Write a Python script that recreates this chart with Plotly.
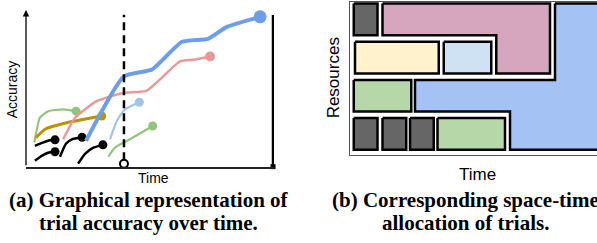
import plotly.graph_objects as go

# ---------------- Panel (a): accuracy curves (time %, accuracy %) ----------------
blue_t = [24.2, 39.5, 50.8, 62.9, 73.4, 81.0, 94.4]
blue_a = [16.5, 57.6, 62.0, 79.7, 81.6, 89.2, 95.6]
pink_t = [15.0, 19.8, 28.5, 39.2, 48.7, 62.1, 67.5, 74.2]
pink_a = [17.5, 31.2, 41.8, 47.0, 48.5, 67.1, 68.2, 70.3]
green1_t = [3.4, 5.6, 9.0, 15.0, 20.2]
green1_a = [15.4, 31.2, 35.4, 36.5, 35.4]
gold_t = [4.0, 7.7, 16.4, 30.5]
gold_a = [18.5, 23.9, 28.0, 32.3]
lblue_t = [33.9, 36.6, 39.9, 45.7]
lblue_a = [17.5, 29.1, 36.5, 41.1]
green2_t = [33.2, 35.9, 41.9, 51.1]
green2_a = [6.3, 12.2, 17.5, 25.9]
black1_t = [3.6, 6.5, 8.9, 11.7]
black1_a = [13.3, 15.2, 16.5, 17.1]
black2_t = [3.6, 6.5, 8.9, 11.7]
black2_a = [3.8, 7.0, 8.9, 9.5]
black3_t = [13.7, 16.1, 18.5, 22.6]
black3_a = [6.3, 14.6, 17.4, 18.7]
black4_t = [21.0, 23.8, 27.0, 31.0]
black4_a = [1.9, 8.2, 12.0, 13.9]
now_time = 39.5
deadline_time = 99.6
deadline_top = 96.8

# ---------------- Panel (b): space-time allocation (time units, resource row) ----------------
# each trial: list of (row, start, end)
gray_trials = [
    [(3, 1.5, 11.0)],
    [(0, 1.5, 11.0)],
    [(0, 13.0, 22.5)],
    [(0, 24.0, 33.5)],
]
yellow_trial = [(2, 2.0, 35.5)]
lblue_trial = [(2, 37.5, 56.5)]
green_trial_a = [(1, 1.5, 24.5)]
green_trial_b = [(0, 35.0, 62.0)]
pink_trial = [(3, 13.0, 80.0), (2, 58.5, 80.0)]
blue_trial = [(3, 82.0, 100.0), (2, 82.0, 100.0), (1, 26.0, 100.0), (0, 64.0, 100.0)]

ROW_LO, ROW_HI = 0.13, 0.96


def outline(segs):
    """Polygon of a staircase trial whose row segments share the same end."""
    segs = sorted(segs, key=lambda s: -s[0])  # top row first
    top_row, bot_row = segs[0][0], segs[-1][0]
    end = segs[0][2]
    xs = [segs[0][1], end, end, segs[-1][1]]
    ys = [top_row + ROW_HI, top_row + ROW_HI, bot_row + ROW_LO, bot_row + ROW_LO]
    up = segs[::-1]  # bottom to top
    for i in range(len(up) - 1):
        r, s, _ = up[i]
        r2, s2, _ = up[i + 1]
        if s2 == s:
            continue
        yb = r + ROW_HI if s2 > s else r2 + ROW_LO
        xs += [s, s2]
        ys += [yb, yb]
    xs.append(segs[0][1])
    ys.append(top_row + ROW_HI)
    return xs, ys


fig = go.Figure()

curves = [
    (green1_t, green1_a, "#93c47d", 2.2, 9),
    (gold_t, gold_a, "#bf9000", 3, 9),
    (pink_t, pink_a, "#ea9999", 2.5, 10),
    (lblue_t, lblue_a, "#9fc5e8", 2.2, 9),
    (green2_t, green2_a, "#93c47d", 2.2, 9),
    (black1_t, black1_a, "black", 2.5, 9),
    (black2_t, black2_a, "black", 2.5, 9),
    (black3_t, black3_a, "black", 2.5, 9),
    (black4_t, black4_a, "black", 2.5, 9),
    (blue_t, blue_a, "#6d9eeb", 4, 13),
]
for t, a, c, w, ms in curves:
    fig.add_trace(go.Scatter(x=t, y=a, mode="lines",
                             line=dict(color=c, width=w, shape="spline", smoothing=0.5),
                             xaxis="x", yaxis="y", hoverinfo="skip"))
    fig.add_trace(go.Scatter(x=[t[-1]], y=[a[-1]], mode="markers",
                             marker=dict(color=c, size=ms), cliponaxis=False,
                             xaxis="x", yaxis="y", hoverinfo="skip"))

# current time (dashed) and deadline
fig.add_trace(go.Scatter(x=[now_time, now_time], y=[4, 97], mode="lines",
                         line=dict(color="black", width=2.5, dash="8px,5px"),
                         xaxis="x", yaxis="y", hoverinfo="skip"))
fig.add_trace(go.Scatter(x=[now_time], y=[1.8], mode="markers",
                         marker=dict(color="white", size=8, line=dict(color="black", width=2)),
                         cliponaxis=False, xaxis="x", yaxis="y", hoverinfo="skip"))
fig.add_trace(go.Scatter(x=[deadline_time, deadline_time], y=[0, deadline_top], mode="lines",
                         line=dict(color="black", width=2.5), cliponaxis=False,
                         xaxis="x", yaxis="y", hoverinfo="skip"))
fig.add_trace(go.Scatter(x=[deadline_time], y=[0], mode="markers",
                         marker=dict(color="black", size=5, symbol="square"), cliponaxis=False,
                         xaxis="x", yaxis="y", hoverinfo="skip"))

# ---- panel (b) blocks ----
blocks = [(tr, "#666666") for tr in gray_trials] + [
    (yellow_trial, "#fff2cc"), (lblue_trial, "#cfe2f3"),
    (green_trial_a, "#b6d7a8"), (green_trial_b, "#b6d7a8"),
    (pink_trial, "#d5a6bd"), (blue_trial, "#a4c2f4"),
]
for segs, col in blocks:
    xs, ys = outline(segs)
    fig.add_trace(go.Scatter(x=xs, y=ys, mode="lines", fill="toself", fillcolor=col,
                             line=dict(color="black", width=2.5),
                             xaxis="x2", yaxis="y2", hoverinfo="skip"))

W, H = 597, 243
ax_common = dict(showgrid=False, zeroline=False, showticklabels=False, ticks="", fixedrange=True)
fig.update_layout(
    width=W, height=H, margin=dict(l=0, r=0, t=0, b=0),
    paper_bgcolor="white", plot_bgcolor="white", showlegend=False,
    xaxis=dict(domain=[26 / W, 274 / W], range=[0, 100], anchor="y",
               showline=True, linecolor="#222", linewidth=2, **ax_common),
    yaxis=dict(domain=[(H - 166) / H, (H - 8) / H], range=[0, 100], anchor="x",
               showline=False, **ax_common),
    xaxis2=dict(domain=[350 / W, 1], range=[0, 98.8], anchor="y2",
                showline=True, mirror=True, linecolor="#555", linewidth=1.5, **ax_common),
    yaxis2=dict(domain=[(H - 154) / H, 1], range=[0, 4], anchor="x2",
                showline=True, linecolor="#555", linewidth=1.5, **ax_common),
)

lab = dict(family="Arial, Liberation Sans, sans-serif", color="black")
cap = dict(family="Times New Roman, Liberation Serif, serif", size=21, color="black")
fig.add_annotation(x=0, y=100, ax=0, ay=0, xref="x", yref="y", axref="x", ayref="y",
                   showarrow=True, arrowhead=2, arrowsize=1, arrowwidth=1.3, arrowcolor="black", text="")
fig.add_annotation(x=98.8, y=-0.16, ax=4.4, ay=-0.16, xref="x2", yref="y2", axref="x2", ayref="y2",
                   showarrow=True, arrowhead=2, arrowsize=1, arrowwidth=1.1, arrowcolor="black", text="")


def txt(px, py, text, font, angle=0, xanchor="center"):
    fig.add_annotation(x=px / W, y=(H - py) / H, xref="paper", yref="paper", text=text,
                       textangle=angle, showarrow=False, xanchor=xanchor, yanchor="middle",
                       font=font)


txt(153, 177, "Time", dict(size=14, **lab))
txt(12, 88, "Accuracy", dict(size=14, **lab), angle=-90)
txt(478, 174, "Time", dict(size=17, **lab))
txt(333, 77, "Resources", dict(size=17, **lab), angle=-90)
txt(149, 200, "<b>(a) Graphical representation of</b>", cap)
txt(148, 223, "<b>trial accuracy over time.</b>", cap)
txt(330, 200, "<b>(b) Corresponding space-time</b>", cap, xanchor="left")
txt(465, 223, "<b>allocation of trials.</b>", cap)

fig.write_html("out.html", config={"displayModeBar": False, "staticPlot": True},
               post_script="document.body.style.margin='0';document.body.style.overflow='hidden';")
